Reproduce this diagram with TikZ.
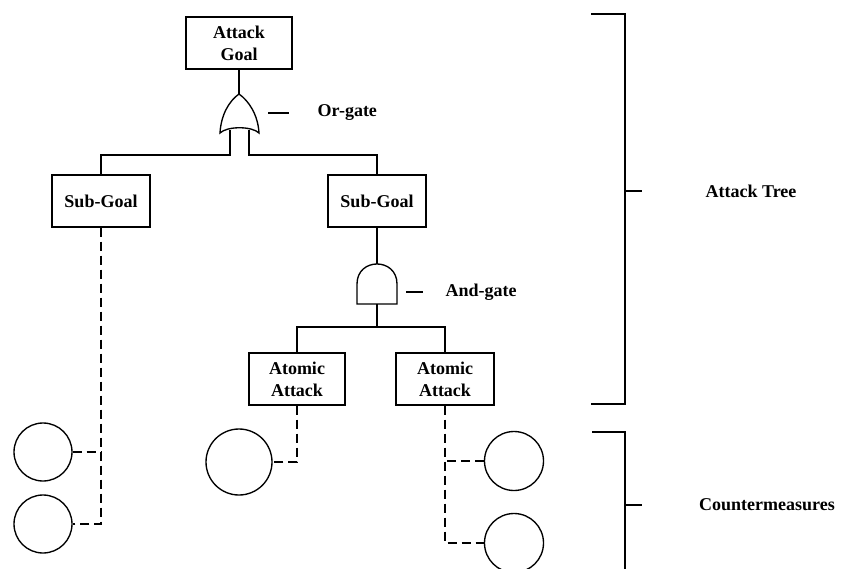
\documentclass[tikz,border=0pt]{standalone}
\usepackage{fontspec}
\setmainfont{Liberation Serif}
\begin{document}
\begin{tikzpicture}[x=1pt,y=-1pt, line width=1.35pt,
  font=\fontsize{18}{22}\selectfont\bfseries,
  box/.style={draw, align=center, minimum height=52pt, inner sep=2pt},
  cmcirc/.style={draw, circle, inner sep=0pt},
  lbl/.style={inner sep=0pt},
  dsh/.style={dash pattern=on 9pt off 5pt}]
\useasboundingbox (0,0) rectangle (851,568);
% boxes
\node[box, minimum width=106pt] (goal) at (239,43) {Attack\\Goal};
\node[box, minimum width=98pt] (sg1) at (101,201) {Sub-Goal};
\node[box, minimum width=98pt] (sg2) at (377,201) {Sub-Goal};
\node[box, minimum width=96pt] (aa1) at (297,379) {Atomic\\Attack};
\node[box, minimum width=98pt] (aa2) at (445,379) {Atomic\\Attack};
% circles
\node[cmcirc, minimum size=58pt] (c1) at (43,452) {};
\node[cmcirc, minimum size=58pt] (c2) at (43,524) {};
\node[cmcirc, minimum size=66pt] (c3) at (239,462) {};
\node[cmcirc, minimum size=59pt] (c4) at (514,461) {};
\node[cmcirc, minimum size=59pt] (c5) at (514,543) {};
% OR gate
\coordinate (ortop) at (239,94);
\coordinate (orL) at (230,130);
\coordinate (orR) at (249,130);
\draw (220,133) .. controls (221,115) and (229,101) .. (ortop)
      .. controls (249,101) and (258,115) .. (259,133)
      .. controls (252,126) and (227,126) .. cycle;
\draw (goal.south) -- (ortop);
\draw (orL) -- (230,155) -| (sg1.north);
\draw (orR) -- (249,155) -| (sg2.north);
% AND gate
\coordinate (andtop) at (377,264);
\coordinate (andbot) at (377,304);
\draw (357,304) -- (357,284) .. controls (357,257.3) and (397,257.3) .. (397,284) -- (397,304) -- cycle;
\draw (sg2.south) -- (andtop);
\draw (andbot) -- (377,327) coordinate (andj);
\draw (andj) -| (aa1.north);
\draw (andj) -| (aa2.north);
% gate labels
\coordinate (od1) at (268,113); \coordinate (od2) at (289,113);
\draw (od1) -- (od2);
\node[lbl, anchor=west] (orl) at (317,113) {Or-gate};
\coordinate (ad1) at (406,292); \coordinate (ad2) at (423,292);
\draw (ad1) -- (ad2);
\node[lbl, anchor=west] (andl) at (445,292) {And-gate};
% brackets
\draw (591,14) -- (625,14) -- (625,404) -- (591,404);
\draw (625,191) -- (642,191);
\node[lbl] (atl) at (751,191) {Attack Tree};
\draw (592,432) -- (625,432) -- (625,575);
\draw (625,505) -- (642,505);
\node[lbl] (cml) at (767,505) {Countermeasures};
% dashed countermeasure links
\draw[dsh] (sg1.south) |- (c2.east);
\draw[dsh] (c1.east) -- (c1.east -| sg1.south);
\draw[dsh] (aa1.south) |- (c3.east);
\draw[dsh] (aa2.south) |- (c5.west);
\draw[dsh] (c4.west) -- (c4.west -| aa2.south);
\end{tikzpicture}
\end{document}
